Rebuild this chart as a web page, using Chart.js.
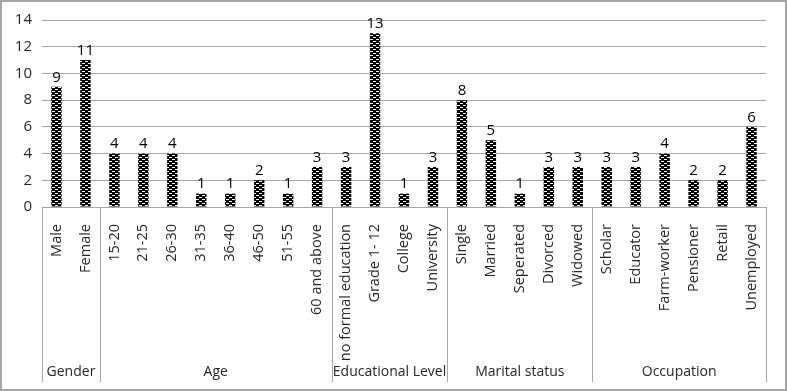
<!DOCTYPE html>
<html>
<head>
<meta charset="utf-8">
<script src="https://cdn.jsdelivr.net/npm/chart.js@4"></script>
<style>
  html, body { margin: 0; padding: 0; background: #fff; }
  #wrap { position: relative; width: 787px; height: 391px; box-sizing: border-box; border: 2px solid #a6a6a6; }
  canvas { position: absolute; left: -2px; top: -2px; }
</style>
</head>
<body>
<div id="wrap"><canvas id="chart" width="787" height="391"></canvas></div>
<script>
// categories and values
const categories = [
    'Male', 'Female',
    '15-20', '21-25', '26-30', '31-35', '36-40', '46-50', '51-55', '60 and above',
    'no formal education', 'Grade 1- 12', 'College', 'University',
    'Single', 'Married', 'Seperated', 'Divorced', 'Widowed',
    'Scholar', 'Educator', 'Farm-worker', 'Pensioner', 'Retail', 'Unemployed'
];
const counts = [9, 11, 4, 4, 4, 1, 1, 2, 1, 3, 3, 13, 1, 3, 8, 5, 1, 3, 3, 3, 3, 4, 2, 2, 6];
const groupNames = ['Gender', 'Age', 'Educational Level', 'Marital status', 'Occupation'];
const groupSizes = [2, 8, 4, 5, 6];
const yTicks = [0, 2, 4, 6, 8, 10, 12, 14];

const FONT = '"Open Sans", sans-serif';
const TEXT = '#262626';

// black bars with small white dashes
function makePattern() {
    const c = document.createElement('canvas');
    c.width = 6;
    c.height = 4;
    const g = c.getContext('2d');
    g.fillStyle = '#000';
    g.fillRect(0, 0, 6, 4);
    g.fillStyle = '#fff';
    g.fillRect(1, 1, 3, 1);
    g.fillRect(4, 3, 2, 1);
    g.fillRect(0, 3, 1, 1);
    return g.createPattern(c, 'repeat');
}

const valueLabels = {
    id: 'valueLabels',
    afterDatasetsDraw(chart) {
        const ctx = chart.ctx;
        const meta = chart.getDatasetMeta(0);
        ctx.save();
        ctx.font = '15px ' + FONT;
        ctx.fillStyle = '#000';
        ctx.textAlign = 'center';
        ctx.textBaseline = 'bottom';
        meta.data.forEach((bar, i) => {
            ctx.fillText(String(counts[i]), bar.x, bar.y - 2);
        });
        ctx.restore();
    }
};

const groupAxis = {
    id: 'groupAxis',
    afterDraw(chart) {
        const ctx = chart.ctx;
        const x = chart.scales.x;
        const area = chart.chartArea;
        const half = (x.getPixelForValue(1) - x.getPixelForValue(0)) / 2;
        const bottom = chart.height - 9;
        ctx.save();
        ctx.strokeStyle = '#a6a6a6';
        ctx.lineWidth = 1;
        ctx.font = '14px ' + FONT;
        ctx.fillStyle = TEXT;
        ctx.textAlign = 'center';
        ctx.textBaseline = 'middle';
        let start = 0;
        const edges = [Math.round(x.getPixelForValue(0) - half) + 0.5];
        groupSizes.forEach((n, g) => {
            const end = start + n;
            const left = x.getPixelForValue(start) - half;
            const right = x.getPixelForValue(end - 1) + half;
            edges.push(Math.round(right) + 0.5);
            ctx.fillText(groupNames[g], (left + right) / 2, bottom - 10);
            start = end;
        });
        ctx.beginPath();
        edges.forEach(px => {
            ctx.moveTo(px, area.bottom);
            ctx.lineTo(px, bottom);
        });
        ctx.stroke();
        ctx.restore();
    }
};

new Chart(document.getElementById('chart').getContext('2d'), {
    type: 'bar',
    data: {
        labels: categories,
        datasets: [{
            data: counts,
            backgroundColor: makePattern(),
            barPercentage: 0.36,
            categoryPercentage: 1
        }]
    },
    options: {
        responsive: false,
        animation: false,
        layout: { padding: { top: 20, right: 21, bottom: 9, left: 0 } },
        plugins: {
            legend: { display: false },
            tooltip: { enabled: false }
        },
        scales: {
            y: {
                min: 0,
                max: 14,
                afterBuildTicks: s => { s.ticks = yTicks.map(v => ({ value: v })); },
                afterFit: s => { s.width = 42; },
                border: { display: false },
                grid: { color: '#a6a6a6', drawTicks: false },
                ticks: { font: { size: 15, family: FONT }, color: TEXT, padding: 10 }
            },
            x: {
                afterFit: s => { s.height = 175; },
                border: { display: false },
                grid: { display: false },
                ticks: {
                    autoSkip: false,
                    minRotation: 90,
                    maxRotation: 90,
                    padding: 9,
                    font: { size: 14.5, family: FONT },
                    color: TEXT
                }
            }
        }
    },
    plugins: [valueLabels, groupAxis]
});
</script>
</body>
</html>
